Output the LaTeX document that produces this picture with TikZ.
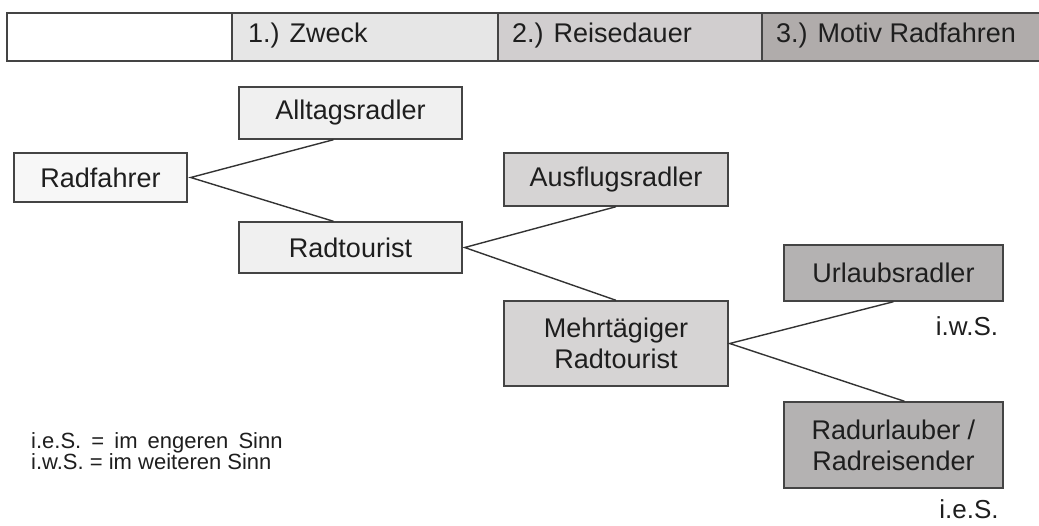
\documentclass[tikz,border=0pt]{standalone}
\usepackage{fontspec}
\setmainfont{Liberation Sans}
\definecolor{lineC}{HTML}{333333}
\definecolor{edgeC}{HTML}{444444}
\definecolor{txtC}{HTML}{1E1E1E}
\definecolor{hA}{HTML}{E6E6E6}
\definecolor{hB}{HTML}{D1CECF}
\definecolor{hC}{HTML}{B0ACAB}
\definecolor{fA}{HTML}{F7F7F7}
\definecolor{fB}{HTML}{F0F0F0}
\definecolor{fC}{HTML}{D6D4D4}
\definecolor{fD}{HTML}{B4B2B2}
\tikzset{
  boxbase/.style={draw=edgeC, line width=1.4pt, text=txtC, inner sep=0pt, align=center,
    font=\fontsize{27}{31}\selectfont},
  hcell/.style={draw=edgeC, line width=1.4pt},
  htext/.style={anchor=west, text=txtC, inner sep=0pt, font=\fontsize{27}{30}\selectfont},
  conn/.style={draw=lineC, line width=1.4pt},
  note/.style={text=txtC, inner sep=0pt, font=\fontsize{26}{28}\selectfont},
  legend/.style={text=txtC, inner sep=0pt, anchor=west, align=left, font=\fontsize{22}{19}\selectfont}
}
\begin{document}
\begin{tikzpicture}[x=1pt,y=-1pt]
\useasboundingbox (0,0) rectangle (1039,525);
\begin{scope}
\clip (0,0) rectangle (1039,525);
% header
\path[hcell, fill=white] (7,13) rectangle (232,61);
\path[hcell, fill=hA] (232,13) rectangle (498,61);
\path[hcell, fill=hB] (498,13) rectangle (762,61);
\path[hcell, fill=hC] (762,13) rectangle (1045,61);
\end{scope}
\node[htext] (h1) at (248,36) {1.) Zweck};
\node[htext] (h2) at (512,36) {2.) Reisedauer};
\node[htext] (h3) at (776,36) {3.) Motiv Radfahren};
% boxes
\node[boxbase, fill=fA, minimum width=173pt, minimum height=49pt] (rf) at (100.5,177.5) {Radfahrer};
\node[boxbase, fill=fB, minimum width=223pt, minimum height=52pt] (al) at (350.5,113) {Alltagsradler};
\node[boxbase, fill=fB, minimum width=223pt, minimum height=51pt] (rt) at (350.5,247.5) {Radtourist};
\node[boxbase, fill=fC, minimum width=224pt, minimum height=53pt] (au) at (616,179.5) {Ausflugsradler};
\node[boxbase, fill=fC, minimum width=224pt, minimum height=85pt] (mt) at (616,343.5) {Mehrtägiger\\Radtourist};
\node[boxbase, fill=fD, minimum width=219pt, minimum height=56pt] (ur) at (893.5,273) {Urlaubsradler};
\node[boxbase, fill=fD, minimum width=219pt, minimum height=86pt] (ru) at (893.5,445) {Radurlauber /\\Radreisender};
% connector origins
\coordinate (crf) at ([xshift=3pt]rf.east);
\coordinate (crt) at ([xshift=2pt]rt.east);
\coordinate (cmt) at ([xshift=1pt]mt.east);
\draw[conn] ([xshift=-17pt]al.south) -- (crf) -- ([xshift=-17pt]rt.north);
\draw[conn] (au.south) -- (crt) -- (mt.north);
\draw[conn] (ur.south) -- (cmt) -- ([xshift=11pt]ru.north);
% notes
\node[note] (iws) at (967,326) {i.w.S.};
\node[note] (ies) at (969,509) {i.e.S.};
\node[legend] (lg) at (31,451) {i.e.S.\hspace{4pt} =\hspace{4pt} im\hspace{4pt} engeren\hspace{4pt} Sinn\\i.w.S. = im weiteren Sinn};
\end{tikzpicture}
\end{document}
